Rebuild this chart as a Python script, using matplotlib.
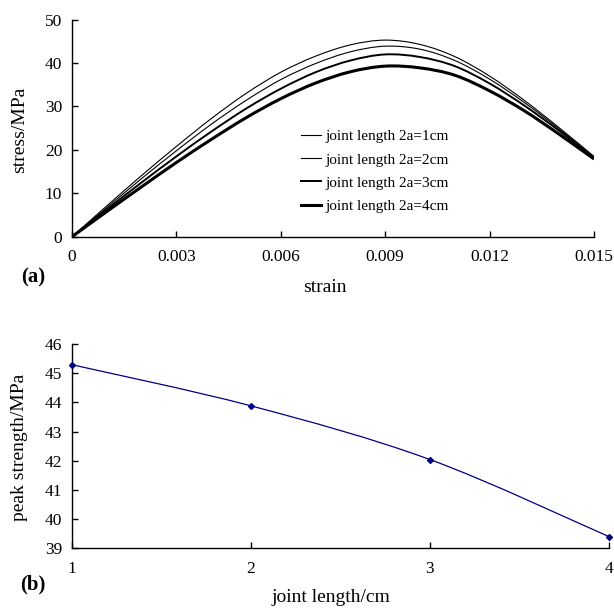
import numpy as np
import matplotlib
matplotlib.use("Agg")
import matplotlib.pyplot as plt
from matplotlib.path import Path
from matplotlib.patches import PathPatch
from matplotlib.lines import Line2D

# --- data ---
strain = [0, 0.001, 0.002, 0.003, 0.004, 0.005, 0.006, 0.007,
          0.008, 0.009, 0.010, 0.011, 0.012, 0.013, 0.014, 0.015]
stress_1cm = [0, 7.1, 14.1, 20.8, 27.2, 33.0, 37.9, 41.6, 44.2, 45.3, 44.3, 41.5, 37.0, 31.4, 25.1, 18.5]
stress_2cm = [0, 6.7, 13.4, 19.8, 25.9, 31.4, 36.2, 39.9, 42.6, 43.9, 43.2, 40.6, 36.3, 30.9, 24.8, 18.3]
stress_3cm = [0, 6.3, 12.5, 18.5, 24.2, 29.5, 34.1, 37.9, 40.6, 42.0, 41.4, 39.3, 35.3, 30.2, 24.4, 18.1]
stress_4cm = [0, 5.8, 11.5, 17.1, 22.4, 27.4, 31.8, 35.4, 38.0, 39.3, 38.9, 37.2, 33.6, 29.0, 23.6, 17.9]
labels_a = ["joint length 2a=1cm", "joint length 2a=2cm",
            "joint length 2a=3cm", "joint length 2a=4cm"]

joint_len = [1, 2, 3, 4]
peak_strength = [45.29, 43.88, 42.04, 39.40]

strain_ticks = [0, 0.003, 0.006, 0.009, 0.012, 0.015]
strain_ticklabels = ["0", "0.003", "0.006", "0.009", "0.012", "0.015"]

plt.rcParams['font.family'] = ['Liberation Serif', 'DejaVu Serif']


def smooth_path(x, y):
    # Catmull-Rom style smoothing like Excel's "smoothed line"
    pts = np.column_stack([x, y]).astype(float)
    n = len(pts)
    verts = [pts[0]]
    codes = [Path.MOVETO]
    for i in range(n - 1):
        p0 = pts[i - 1] if i > 0 else pts[i]
        p1 = pts[i]
        p2 = pts[i + 1]
        p3 = pts[i + 2] if i + 2 < n else pts[i + 1]
        c1 = p1 + (p2 - p0) / 6.0
        c2 = p2 - (p3 - p1) / 6.0
        verts += [c1, c2, p2]
        codes += [Path.CURVE4] * 3
    return Path(verts, codes)


def style_axis(ax):
    ax.spines['top'].set_visible(False)
    ax.spines['right'].set_visible(False)
    ax.spines['left'].set_linewidth(1.0)
    ax.spines['bottom'].set_linewidth(1.0)
    ax.tick_params(axis='both', direction='in', length=4, width=1.0, labelsize=12.5)
    ax.tick_params(axis='x', pad=9)
    ax.tick_params(axis='y', pad=7)


fig = plt.figure(figsize=(6.14, 6.09), dpi=100)

# --- (a) stress-strain curves ---
ax1 = fig.add_axes([72 / 614, 1 - 236.7 / 609, 522 / 614, 217 / 609])
series = [stress_1cm, stress_2cm, stress_3cm, stress_4cm]
widths = [0.8, 0.8, 1.4, 2.2]
handles = []
for ys, lw, lab in zip(series, widths, labels_a):
    ax1.add_patch(PathPatch(smooth_path(strain, ys), fill=False, edgecolor='black', lw=lw))
    handles.append(Line2D([], [], color='black', lw=lw, label=lab))
ax1.set_xlim(0, 0.015)
ax1.set_ylim(0, 50)
ax1.set_xticks(strain_ticks)
ax1.set_xticklabels(strain_ticklabels)
ax1.set_yticks([0, 10, 20, 30, 40, 50])
style_axis(ax1)
ax1.legend(handles=handles, loc='upper left', bbox_to_anchor=((301 - 72) / 522, 107 / 217),
           frameon=False, fontsize=11, handlelength=1.3, handletextpad=0.3,
           labelspacing=0.62, borderpad=0, borderaxespad=0)
fig.text(20 / 614, 1 - 130 / 609, "stress/MPa", rotation=90, ha='center', va='center', fontsize=14)
fig.text(325 / 614, 1 - 288 / 609, "strain", ha='center', va='center', fontsize=14)
fig.text(33 / 614, 1 - 277 / 609, "(a)", ha='center', va='center', fontsize=15, fontweight='bold')

# --- (b) peak strength vs joint length ---
ax2 = fig.add_axes([72 / 614, 1 - 548.3 / 609, 537 / 614, 204.3 / 609])
ax2.add_patch(PathPatch(smooth_path(joint_len, peak_strength), fill=False, edgecolor='#000080', lw=0.9))
ax2.plot(joint_len, peak_strength, linestyle='none', marker='D', markersize=3,
         color='#000080', clip_on=False, zorder=5)
ax2.set_xlim(1, 4)
ax2.set_ylim(39, 46)
ax2.set_xticks(joint_len)
ax2.set_yticks(range(39, 47))
style_axis(ax2)
fig.text(20 / 614, 1 - 447 / 609, "peak strength/MPa", rotation=90, ha='center', va='center', fontsize=14)
fig.text(331 / 614, 1 - 598 / 609, "joint length/cm", ha='center', va='center', fontsize=14)
fig.text(33 / 614, 1 - 584 / 609, "(b)", ha='center', va='center', fontsize=15, fontweight='bold')

fig.savefig("out.png", dpi=100)
